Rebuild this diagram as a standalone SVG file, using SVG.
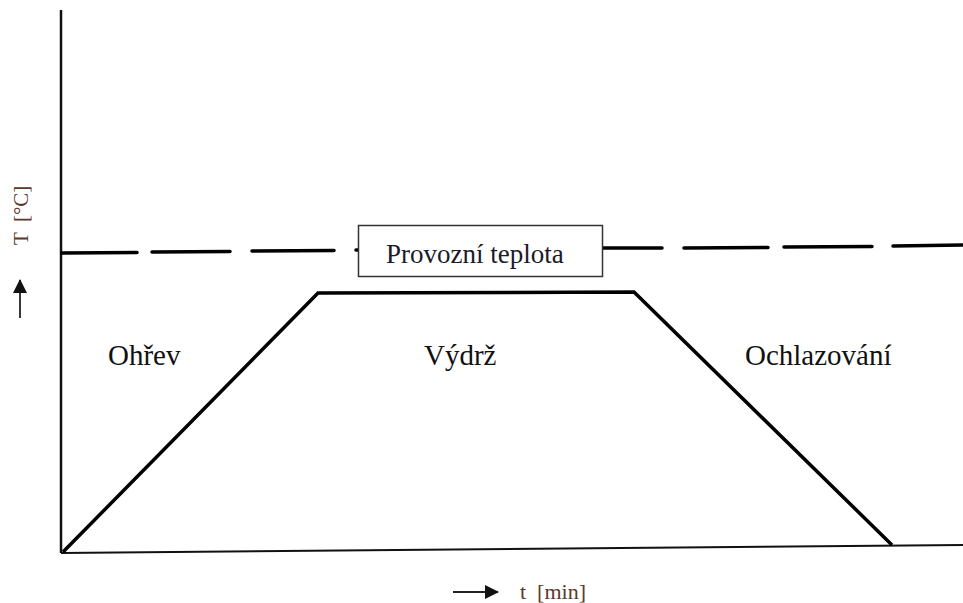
<svg xmlns="http://www.w3.org/2000/svg" width="963" height="603" viewBox="0 0 963 603">
<style>
.lbl{font-family:"Liberation Serif","Times New Roman",serif;font-size:29px;fill:#111}
.box{font-family:"Liberation Serif","Times New Roman",serif;font-size:27px;fill:#1a1a2a}
.ax{font-family:"Liberation Serif","Times New Roman",serif;font-size:21px;fill:#5a3a2a}
</style>
<defs>
<marker id="ah" markerWidth="14" markerHeight="14" refX="13" refY="7" orient="auto" markerUnits="userSpaceOnUse"><path d="M0,0 L14,7 L0,14 Z" fill="#111"/></marker>
</defs>
<rect width="963" height="603" fill="#fff"/>
<g id="connectors">
<line id="yaxis" x1="61" y1="10" x2="61" y2="553" stroke="#111" stroke-width="2.5"/>
<line id="xaxis" x1="61" y1="553" x2="963" y2="545" stroke="#111" stroke-width="2"/>
<polyline id="profile" points="63,552 318,293 634,292 892,545" fill="none" stroke="#000" stroke-width="3.5" stroke-linejoin="miter"/>
<g id="dashed" stroke="#000" stroke-width="3.5" stroke-linecap="round">
<line x1="62" y1="253" x2="137" y2="252.5"/>
<line x1="152" y1="252" x2="230" y2="251.5"/>
<line x1="252" y1="251" x2="334" y2="250.5"/>
<line x1="356" y1="250" x2="358" y2="250"/>
<line x1="603" y1="248" x2="662" y2="248"/>
<line x1="684" y1="248" x2="768" y2="247.5"/>
<line x1="784" y1="247" x2="872" y2="246.5"/>
<line x1="893" y1="246" x2="963" y2="245"/>
</g>
<line id="tarrow" x1="453" y1="592" x2="498" y2="592" stroke="#222" stroke-width="1.8" marker-end="url(#ah)"/>
<line id="Tarrow" x1="20" y1="318" x2="20" y2="280" stroke="#222" stroke-width="1.8" marker-end="url(#ah)"/>
</g>
<g id="box">
<rect x="358.5" y="225.5" width="244" height="51" fill="#fff" stroke="#333" stroke-width="1.5"/>
<text x="386" y="263" class="box">Provozní teplota</text>
</g>
<g id="ohrev"><text x="108" y="365" class="lbl">Ohřev</text></g>
<g id="vydrz"><text x="424" y="365" class="lbl">Výdrž</text></g>
<g id="ochlazovani"><text x="745" y="365" class="lbl">Ochlazování</text></g>
<g id="tlabel"><text x="520" y="599" class="ax" style="font-size:22px" xml:space="preserve">t  [min]</text></g>
<g id="Tlabel"><text transform="translate(28,245) rotate(-90)" class="ax" xml:space="preserve">T  [°C]</text></g>
</svg>
